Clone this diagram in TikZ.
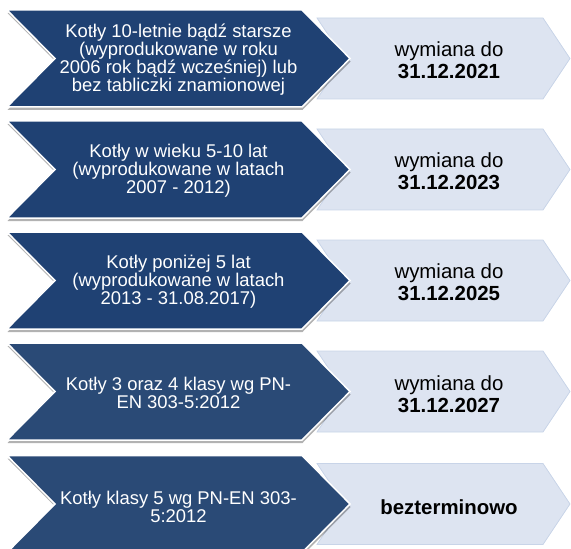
\documentclass[tikz,border=0pt]{standalone}
\usepackage{fontspec}
\setmainfont{Liberation Sans}
\usetikzlibrary{shadows}
\definecolor{navy}{RGB}{31,65,115}
\definecolor{slate}{RGB}{42,74,118}
\definecolor{pale}{RGB}{221,228,241}
\definecolor{paleline}{RGB}{200,212,232}
\tikzset{font=\fontsize{18.5}{18}\selectfont}
\tikzstyle{dark}=[fill=navy,draw=white,line width=1.5bp,drop shadow={shadow xshift=0.5bp,shadow yshift=-3bp,opacity=0.3,fill=black}]
\tikzstyle{light}=[fill=pale,draw=paleline,line width=0.8bp]
\tikzstyle{cond}=[text=white,align=center,inner sep=0pt]
\tikzstyle{term}=[text=black,align=center,inner sep=0pt,font=\fontsize{20.5}{22}\selectfont]

\begin{document}
\begin{tikzpicture}[x=1bp,y=-1bp]
\useasboundingbox (0,0) rectangle (571,549);
\clip (0,0) rectangle (571,549);
\path[light] (317,18) -- (543,18) -- (570,58.5) -- (543,99) -- (317,99) -- (344,58.5) -- cycle;
\path[dark] (7,10) -- (302,10) -- (350,58.5) -- (302,107) -- (7,107) -- (55,58.5) -- cycle;
\path[light] (317,129) -- (543,129) -- (570,169.5) -- (543,210) -- (317,210) -- (344,169.5) -- cycle;
\path[dark] (7,121) -- (302,121) -- (350,169.5) -- (302,218) -- (7,218) -- (55,169.5) -- cycle;
\path[light] (317,240) -- (543,240) -- (570,280.5) -- (543,321) -- (317,321) -- (344,280.5) -- cycle;
\path[dark] (7,232) -- (302,232) -- (350,280.5) -- (302,329) -- (7,329) -- (55,280.5) -- cycle;
\path[light] (317,351) -- (543,351) -- (570,391.5) -- (543,432) -- (317,432) -- (344,391.5) -- cycle;
\path[dark,fill=slate] (7,343) -- (302,343) -- (350,391.5) -- (302,440) -- (7,440) -- (55,391.5) -- cycle;
\path[light] (317,463.5) -- (543,463.5) -- (570,504) -- (543,544.5) -- (317,544.5) -- (344,504) -- cycle;
\path[dark,fill=slate] (7,455.5) -- (302,455.5) -- (350,504) -- (302,552.5) -- (7,552.5) -- (55,504) -- cycle;
\node[cond] (A1) at (178.5,60) {Kotły 10-letnie bądź starsze\\(wyprodukowane w roku\\2006 rok bądź wcześniej) lub\\bez tabliczki znamionowej};
\node[term] (B1) at (449,60) {wymiana do\\\textbf{31.12.2021}};
\node[cond] (A2) at (178.5,171) {Kotły w wieku 5-10 lat\\(wyprodukowane w latach\\2007 - 2012)};
\node[term] (B2) at (449,171) {wymiana do\\\textbf{31.12.2023}};
\node[cond] (A3) at (178.5,282) {Kotły poniżej 5 lat\\(wyprodukowane w latach\\2013 - 31.08.2017)};
\node[term] (B3) at (449,282) {wymiana do\\\textbf{31.12.2025}};
\node[cond] (A4) at (178.5,393) {Kotły 3 oraz 4 klasy wg PN-\\EN 303-5:2012};
\node[term] (B4) at (449,394) {wymiana do\\\textbf{31.12.2027}};
\node[cond] (A5) at (178.5,507) {Kotły klasy 5 wg PN-EN 303-\\5:2012};
\node[term] (B5) at (449,507) {\textbf{bezterminowo}};
\end{tikzpicture}
\end{document}
